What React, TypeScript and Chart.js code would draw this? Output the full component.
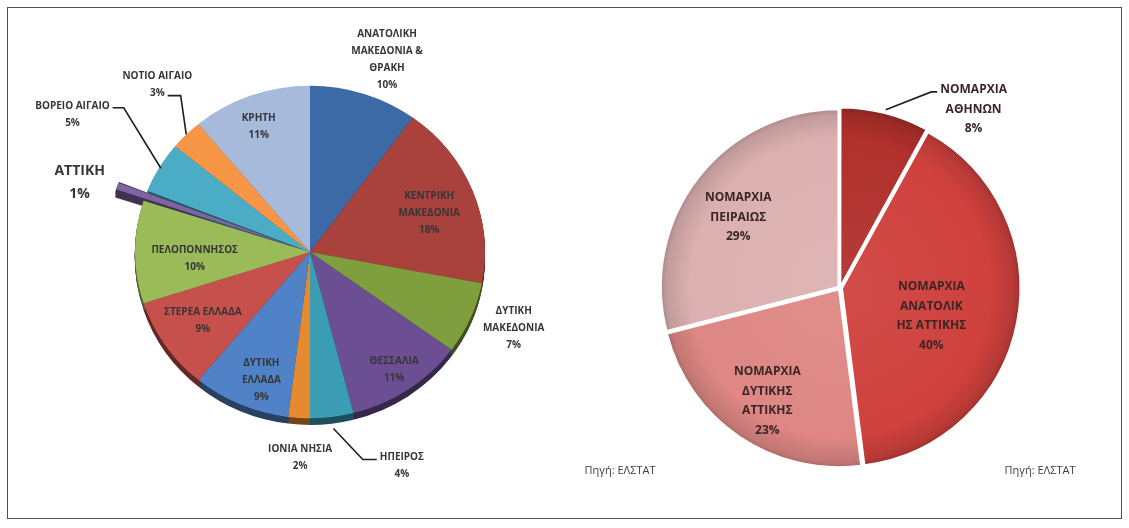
import React, { useEffect, useRef } from "react";
import { Chart, registerables } from "chart.js";

Chart.register(...registerables);

// ---------- DATA ----------
// Left chart: regions of Greece (share, %)
const regionNames: string[][] = [
  ["ΑΝΑΤΟΛΙΚΗ", "ΜΑΚΕΔΟΝΙΑ &", "ΘΡΑΚΗ"],
  ["ΚΕΝΤΡΙΚΗ", "ΜΑΚΕΔΟΝΙΑ"],
  ["ΔΥΤΙΚΗ", "ΜΑΚΕΔΟΝΙΑ"],
  ["ΘΕΣΣΑΛΙΑ"],
  ["ΗΠΕΙΡΟΣ"],
  ["ΙΟΝΙΑ ΝΗΣΙΑ"],
  ["ΔΥΤΙΚΗ", "ΕΛΛΑΔΑ"],
  ["ΣΤΕΡΕΑ ΕΛΛΑΔΑ"],
  ["ΠΕΛΟΠΟΝΝΗΣΟΣ"],
  ["ΑΤΤΙΚΗ"],
  ["ΒΟΡΕΙΟ ΑΙΓΑΙΟ"],
  ["ΝΟΤΙΟ ΑΙΓΑΙΟ"],
  ["ΚΡΗΤΗ"],
];
const regionShares: number[] = [10, 18, 7, 11, 4, 2, 9, 9, 10, 1, 5, 3, 11];

// Right chart: prefectures of Attica (share, %)
const atticaNames: string[][] = [
  ["ΝΟΜΑΡΧΙΑ", "ΑΘΗΝΩΝ"],
  ["ΝΟΜΑΡΧΙΑ", "ΑΝΑΤΟΛΙΚ", "ΗΣ ΑΤΤΙΚΗΣ"],
  ["ΝΟΜΑΡΧΙΑ", "ΔΥΤΙΚΗΣ", "ΑΤΤΙΚΗΣ"],
  ["ΝΟΜΑΡΧΙΑ", "ΠΕΙΡΑΙΩΣ"],
];
const atticaShares: number[] = [8, 40, 23, 29];

const sourceText = "Πηγή: ΕΛΣΤΑΤ";

// ---------- STYLES ----------
const regionColors = [
  "#3b6aa6", "#a9413d", "#7f9f3f", "#6b4f92", "#3b9db3", "#e68a30", "#4f82c6",
  "#c6504c", "#9bbb59", "#8064a2", "#4bacc6", "#f79646", "#a8badb",
];
const regionOffsets = [0, 0, 0, 0, 0, 0, 0, 0, 0, 62, 0, 0, 0];
const atticaColors = ["#b0302c", "#cf413d", "#de8784", "#dcb0b0"];

type Leader = { side: "left" | "right"; line: number; lf: number; gap: number };
type Place = { f: number; da: number; size?: number; lh?: number; leader?: Leader };

const regionPlaces: Place[] = [
  { f: 1.24, da: 2.8 },
  { f: 0.72, da: 2.7 },
  { f: 1.25, da: -2 },
  { f: 0.855, da: 0 },
  { f: 1.39, da: -15, leader: { side: "left", line: 0, lf: 1.07, gap: 14 } },
  { f: 1.24, da: -1 },
  { f: 0.82, da: -3.6 },
  { f: 0.74, da: 0 },
  { f: 0.66, da: -3.6 },
  { f: 1.38, da: -2.3, size: 14, lh: 23 },
  { f: 1.59, da: 0.8, leader: { side: "right", line: 0, lf: 0.99, gap: 11 } },
  { f: 1.33, da: 4, leader: { side: "right", line: 1, lf: 1.0, gap: 13 } },
  { f: 0.81, da: -1.4 },
];

const atticaPlaces: Place[] = [
  { f: 1.26, da: 22.4, leader: { side: "left", line: 0, lf: 1.02, gap: 6 } },
  { f: 0.54, da: 6.3 },
  { f: 0.76, da: -1.5 },
  { f: 0.7, da: -3 },
];

function shade(hex: string, k: number): string {
  const n = parseInt(hex.slice(1), 16);
  const clamp = (v: number) => Math.max(0, Math.min(255, Math.round(v)));
  let r = (n >> 16) & 255, g = (n >> 8) & 255, b = n & 255;
  if (k <= 1) { r *= k; g *= k; b *= k; }
  else { const t = k - 1; r += (255 - r) * t; g += (255 - g) * t; b += (255 - b) * t; }
  return `rgb(${clamp(r)},${clamp(g)},${clamp(b)})`;
}

function arcShift(arc: any) {
  const p = arc.getProps(["startAngle", "endAngle"], true);
  const off = (arc.options.offset || 0) / 4;
  const circ = p.endAngle - p.startAngle;
  const fix = 1 - Math.sin(Math.min(Math.PI, circ || 0));
  const t = off * (1 + fix);
  const half = (p.startAngle + p.endAngle) / 2;
  return { tx: Math.cos(half) * t, ty: Math.sin(half) * t };
}

function makePiePlugin(cfg: {
  names: string[][];
  values: number[];
  places: Place[];
  sy: number;
  depth: number;
  colors: string[];
  size: number;
  lh: number;
  textColor: string;
}) {
  return {
    id: "pieDecor",
    beforeDatasetsDraw(chart: any) {
      const ctx = chart.ctx;
      const meta = chart.getDatasetMeta(0);
      const first = meta.data[0];
      if (!first) return;
      const { x: cx, y: cy } = first.getProps(["x", "y"], true);
      ctx.save();
      ctx.translate(cx, cy);
      ctx.scale(1, cfg.sy);
      ctx.translate(-cx, -cy);
      if (cfg.depth > 0) {
        meta.data.forEach((arc: any, i: number) => {
          const p = arc.getProps(["x", "y", "startAngle", "endAngle", "outerRadius"], true);
          const { tx, ty } = arcShift(arc);
          ctx.fillStyle = shade(cfg.colors[i], 0.5);
          for (let d = 1; d <= cfg.depth; d++) {
            ctx.beginPath();
            ctx.moveTo(p.x + tx, p.y + ty + d);
            ctx.arc(p.x + tx, p.y + ty + d, p.outerRadius, p.startAngle, p.endAngle);
            ctx.closePath();
            ctx.fill();
          }
        });
      }
    },
    afterDatasetsDraw(chart: any) {
      const meta = chart.getDatasetMeta(0);
      if (!meta.data[0]) return;
      chart.ctx.restore();
    },
    afterDraw(chart: any) {
      const ctx = chart.ctx;
      const meta = chart.getDatasetMeta(0);
      ctx.save();
      ctx.textAlign = "center";
      ctx.textBaseline = "middle";
      meta.data.forEach((arc: any, i: number) => {
        const pl = cfg.places[i];
        const p = arc.getProps(["x", "y", "startAngle", "endAngle", "outerRadius"], true);
        const R = p.outerRadius;
        const half = (p.startAngle + p.endAngle) / 2;
        const mid = half + (pl.da * Math.PI) / 180;
        const lx = p.x + Math.cos(mid) * R * pl.f;
        const ly = p.y + Math.sin(mid) * R * pl.f * cfg.sy;
        const lines = [...cfg.names[i], `${cfg.values[i]}%`];
        const size = pl.size || cfg.size;
        const lh = pl.lh || cfg.lh;
        ctx.font = `bold ${size}px "Open Sans", "Noto Sans", sans-serif`;
        ctx.fillStyle = cfg.textColor;
        const top = ly - ((lines.length - 1) * lh) / 2;
        lines.forEach((s, k) => ctx.fillText(s, lx, top + k * lh));
        if (pl.leader) {
          const L = pl.leader;
          const { tx, ty } = arcShift(arc);
          const ex = p.x + tx + Math.cos(half) * R * L.lf;
          const ey = p.y + (ty + Math.sin(half) * R * L.lf) * cfg.sy;
          const w = ctx.measureText(lines[L.line]).width;
          const yLine = top + L.line * lh + 2;
          const endX = L.side === "right" ? lx + w / 2 + 3 : lx - w / 2 - 3;
          const elbowX = L.side === "right" ? endX + L.gap : endX - L.gap;
          ctx.beginPath();
          ctx.moveTo(ex, ey);
          ctx.lineTo(elbowX, yLine);
          ctx.lineTo(endX, yLine);
          ctx.strokeStyle = "#1f1f1f";
          ctx.lineWidth = 1.6;
          ctx.stroke();
        }
      });
      ctx.restore();
    },
  };
}

function LeftPie() {
  const ref = useRef<HTMLCanvasElement | null>(null);
  useEffect(() => {
    if (!ref.current) return;
    const chart = new Chart(ref.current, {
      type: "pie",
      data: {
        labels: regionNames,
        datasets: [
          {
            data: regionShares,
            backgroundColor: regionColors,
            borderWidth: 0,
            offset: regionOffsets,
            clip: false as any,
          },
        ],
      },
      options: {
        responsive: false,
        animation: false,
        radius: 175,
        layout: { padding: 0 },
        plugins: { legend: { display: false }, tooltip: { enabled: false } },
      } as any,
      plugins: [
        makePiePlugin({
          names: regionNames,
          values: regionShares,
          places: regionPlaces,
          sy: 0.95,
          depth: 7,
          colors: regionColors,
          size: 10,
          lh: 17,
          textColor: "#363636",
        }),
      ],
    });
    return () => chart.destroy();
  }, []);
  return (
    <canvas
      ref={ref}
      width={580}
      height={480}
      style={{ position: "absolute", left: 20, top: 12, width: 580, height: 480 }}
    />
  );
}

function RightPie() {
  const ref = useRef<HTMLCanvasElement | null>(null);
  useEffect(() => {
    if (!ref.current) return;
    const R = 177;
    const chart = new Chart(ref.current, {
      type: "pie",
      data: {
        labels: atticaNames,
        datasets: [
          {
            data: atticaShares,
            backgroundColor: (c: any) => {
              const base = atticaColors[c.dataIndex] || "#cc4444";
              const area = c.chart.chartArea;
              if (!area) return base;
              const cx = (area.left + area.right) / 2;
              const cy = (area.top + area.bottom) / 2;
              const g = c.chart.ctx.createRadialGradient(cx, cy, 0, cx, cy, R + 4);
              g.addColorStop(0, shade(base, 1.06));
              g.addColorStop(0.82, base);
              g.addColorStop(0.95, shade(base, 0.88));
              g.addColorStop(1, shade(base, 0.7));
              return g;
            },
            borderColor: "#ffffff",
            borderWidth: 1.5,
            offset: 9,
            clip: false as any,
          },
        ],
      },
      options: {
        responsive: false,
        animation: false,
        radius: R,
        layout: { padding: 0 },
        plugins: { legend: { display: false }, tooltip: { enabled: false } },
      } as any,
      plugins: [
        makePiePlugin({
          names: atticaNames,
          values: atticaShares,
          places: atticaPlaces,
          sy: 1,
          depth: 0,
          colors: atticaColors,
          size: 12,
          lh: 19.5,
          textColor: "#3a2626",
        }),
      ],
    });
    return () => chart.destroy();
  }, []);
  return (
    <canvas
      ref={ref}
      width={520}
      height={480}
      style={{ position: "absolute", left: 580, top: 48, width: 520, height: 480 }}
    />
  );
}

export default function App() {
  const srcStyle: React.CSSProperties = {
    position: "absolute",
    width: 120,
    textAlign: "center",
    top: 461,
    lineHeight: "18px",
    fontFamily: '"Open Sans", "Noto Sans", sans-serif',
    fontSize: 11,
    color: "#3c3c3c",
  };
  return (
    <div
      style={{
        position: "absolute",
        left: 0,
        top: 0,
        width: 1129,
        height: 528,
        background: "#ffffff",
        overflow: "hidden",
      }}
    >
      <div
        style={{
          position: "absolute",
          left: 7,
          top: 7,
          width: 1115,
          height: 512,
          border: "1.5px solid #505050",
          boxSizing: "border-box",
        }}
      />
      <LeftPie />
      <RightPie />
      <div style={{ ...srcStyle, left: 560 }}>{sourceText}</div>
      <div style={{ ...srcStyle, left: 980 }}>{sourceText}</div>
    </div>
  );
}
